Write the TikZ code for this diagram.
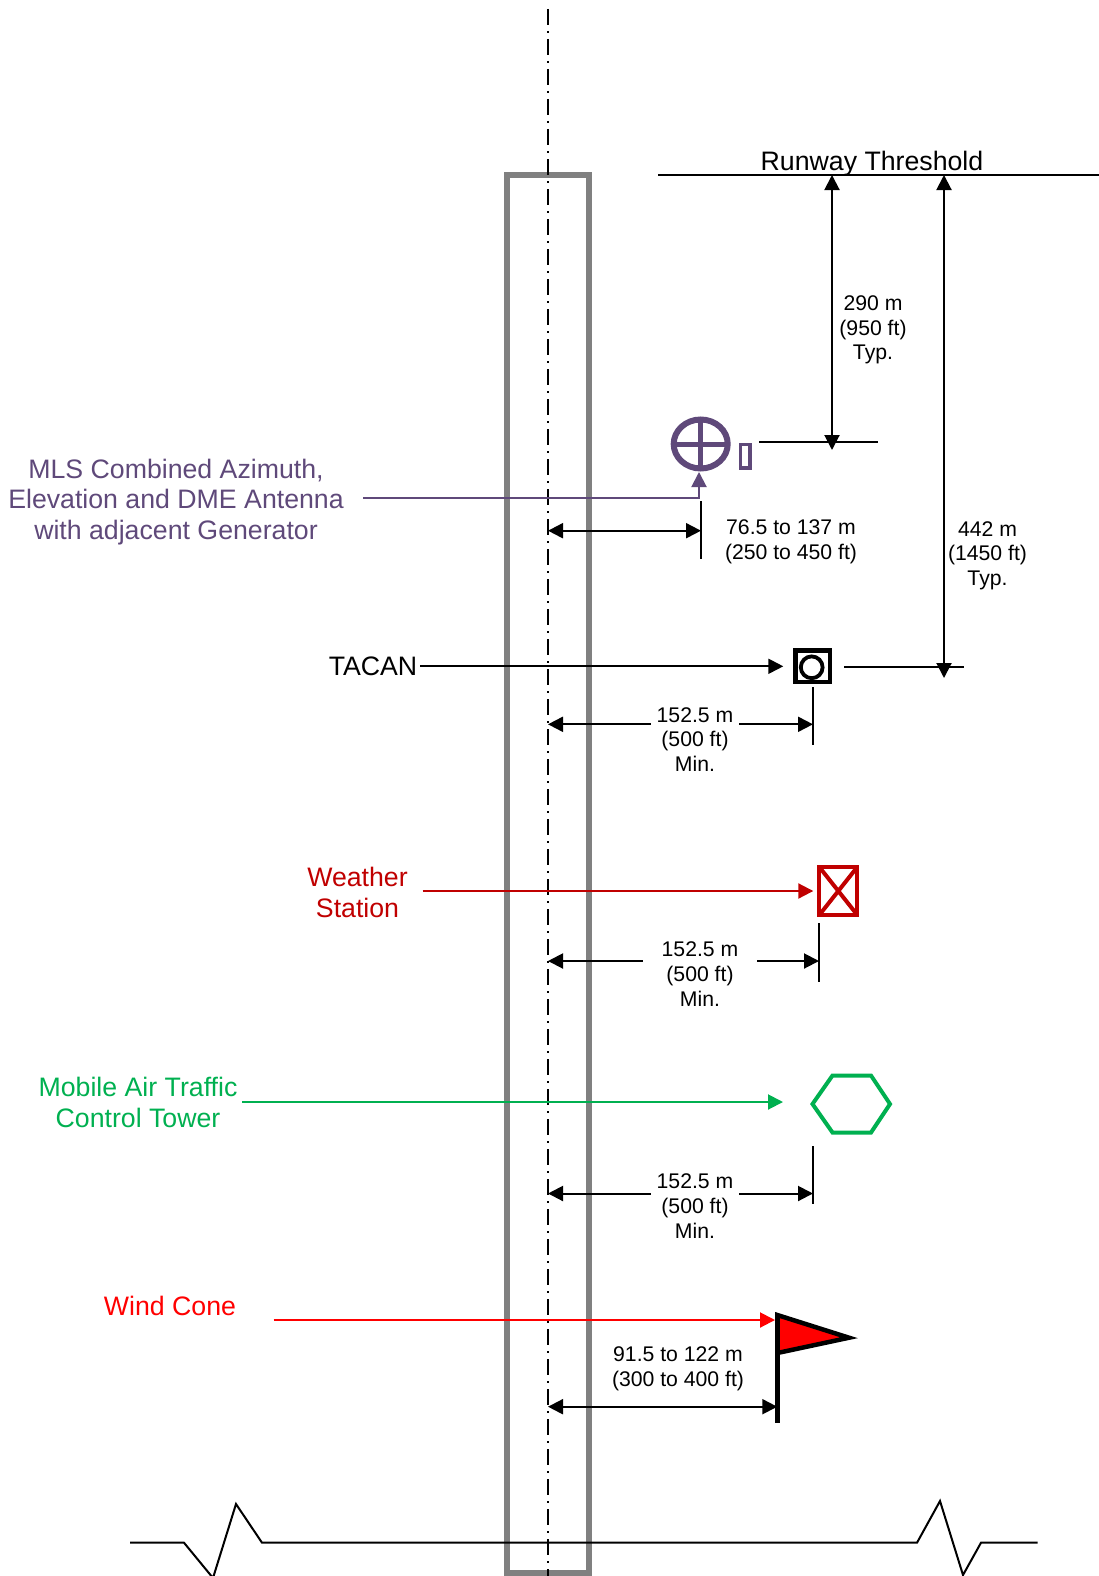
\documentclass[tikz,border=0pt]{standalone}
\usepackage{fontspec}
\setmainfont{Liberation Sans}
\usetikzlibrary{arrows.meta,shapes.geometric}

\definecolor{mlspurple}{HTML}{5F497A}
\definecolor{wxred}{HTML}{C00000}
\definecolor{towergreen}{HTML}{00B050}

\tikzset{
	biglabel/.style={inner sep=0pt, align=center, font=\fontsize{26.7}{30.2}\selectfont},
	dimlabel/.style={inner sep=0pt, align=center, font=\fontsize{21.2}{24.6}\selectfont},
	dimgap/.style={dimlabel, fill=white, inner xsep=#1},
	thin line/.style={line width=2pt},
	symbol/.style={draw, line width=4pt, inner sep=0pt, minimum width=#1}
}

\begin{document}
\begin{tikzpicture}[x=1pt, y=-1pt, >={Triangle[length=15pt,width=15pt]}, thin line]
	\useasboundingbox (0,0) rectangle (1099,1576);

	% Runway and centre line
	\draw [line width=6pt, color=gray] (506.5,1573) -- (506.5,175) -- (589,175) -- (589,1573) -- cycle;
	\coordinate (cltop) at (548,9);
	\coordinate (clbot) at (548,1576);
	\draw [dash pattern=on 16pt off 6pt on 2pt off 6pt] (cltop) -- (clbot);

	% Break line
	\draw (130,1542.7) -- (184,1542.7) -- (213,1578) -- (236,1504) -- (262,1542.7) -- (917,1542.7) -- (940,1501) -- (963,1575) -- (981,1542.7) -- (1037.5,1542.7);

	% Nodes
	\node [biglabel] 					(thrlabel)		at (872,164)		{Runway Threshold};
	\node [biglabel, color=mlspurple]	(mlslabel)		at (176,502)		{MLS Combined Azimuth,\\Elevation and DME Antenna\\with adjacent Generator};
	\node [biglabel]					(tacanlabel)	at (373,666.3)		{TACAN};
	\node [biglabel, color=wxred]		(wxlabel)		at (357.5,892.5)	{Weather\\Station};
	\node [biglabel, color=towergreen]	(twrlabel)		at (138,1102.5)		{Mobile Air Traffic\\Control Tower};
	\node [biglabel, color=red]			(windlabel)		at (170,1306)		{Wind Cone};

	\node [ellipse, draw=mlspurple, line width=6pt, inner sep=0pt, minimum width=54pt, minimum height=49pt,
		path picture={\draw [color=mlspurple, line width=5pt] (path picture bounding box.north) -- (path picture bounding box.south) (path picture bounding box.west) -- (path picture bounding box.east);}]
		(mls) at (700.7,444) {};
	\node [draw=mlspurple, line width=3.5pt, inner sep=0pt, minimum width=9.5pt, minimum height=23.5pt] (gen) at (745.3,456.3) {};
	\node [symbol=34.5pt, minimum height=31.5pt, line width=4.5pt]		(tacan)	at (812.8,666.3) {};
	\node [circle, draw, line width=3.8pt, inner sep=0pt, minimum size=21.8pt]	(tacanring) at (811.7,667.3) {};
	\node [symbol=38pt, minimum height=48pt, draw=wxred,
		path picture={\draw [color=wxred, line width=4pt] (path picture bounding box.north west) -- (path picture bounding box.south east) (path picture bounding box.north east) -- (path picture bounding box.south west);}]
		(wx) at (838.3,891) {};

	% Shapes drawn by hand
	\draw [line width=4pt, color=towergreen, line join=miter] (812.5,1104) -- (832.5,1075.5) -- (871,1075.5) -- (890,1104) -- (871,1132.5) -- (832.5,1132.5) -- cycle;
	\coordinate (twr) at (783,1102);
	\coordinate (poletop) at (777.3,1315);
	\coordinate (polebot) at (777.3,1423);
	\draw [line width=4.5pt, fill=red, line join=miter] (poletop) -- (849,1337.7) -- (777.3,1353) -- cycle;
	\draw [line width=4.5pt] (poletop) -- (polebot);

	% Free ends
	\coordinate (thrl) at (658,175);
	\coordinate (thrr) at (1099,175);
	\coordinate (mlsl) at (759,442);
	\coordinate (mlsr) at (878,442);
	\coordinate (tacl) at (844,667);
	\coordinate (tacr) at (964,667);
	\coordinate (dima) at (832,175);
	\coordinate (dimb) at (832,450);
	\coordinate (dimc) at (944,175);
	\coordinate (dimd) at (944,678);
	\coordinate (mlsstart) at (363,498);
	\coordinate (mlscorner) at (699,498);
	\coordinate (mlstip) at (699,472);
	\coordinate (windstart) at (273.5,1320);
	\coordinate (windtip) at (775,1320);

	% Ticks
	\draw (701,501) coordinate (t1a) -- (701,559) coordinate (t1b);
	\draw (813,687) coordinate (t2a) -- (813,745) coordinate (t2b);
	\draw (819,923) coordinate (t3a) -- (819,981.5) coordinate (t3b);
	\draw (813,1146) coordinate (t4a) -- (813,1204) coordinate (t4b);

	% Paths
	\draw (thrl) -- (thrr);
	\draw (mlsl) -- (mlsr);
	\draw (tacl) -- (tacr);
	\draw [<->] (dima) -- (dimb);
	\draw [<->] (dimc) -- (dimd);

	\draw [color=mlspurple, ->] (mlsstart) -- (mlscorner) -- (mlstip);
	\draw [->, shorten <=2pt, shorten >=10pt] (tacanlabel) -- (tacan);
	\draw [color=wxred, ->, shorten <=14pt, shorten >=4pt] (wxlabel.east |- wx) -- (wx);
	\draw [color=towergreen, ->, shorten <=4pt] (twrlabel.east |- twr) -- (twr);
	\draw [color=red, ->] (windstart) -- (windtip);

	\draw [<->] (cltop |- 0,530.7) -- (t1a |- 0,530.7);
	\draw [<->] (cltop |- 0,724.3) -- (t2a |- 0,724.3);
	\draw [<->] (cltop |- 0,961) -- (t3a |- 0,961);
	\draw [<->] (cltop |- 0,1193.5) -- (t4a |- 0,1193.5);
	\draw [<->] (cltop |- 0,1406.7) -- (poletop |- 0,1406.7);

	% Dimension labels
	\node [dimlabel]		(d290)	at (873,330)		{290 m\\(950 ft)\\Typ.};
	\node [dimlabel]		(d442)	at (987.5,555.5)	{442 m\\(1450 ft)\\Typ.};
	\node [dimlabel]		(d76)	at (791,542)		{76.5 to 137 m\\(250 to 450 ft)};
	\node [dimgap=6pt]		(d152a)	at (695,739.5)		{152.5 m\\(500 ft)\\Min.};
	\node [dimgap=19pt]		(d152b)	at (700,974)		{152.5 m\\(500 ft)\\Min.};
	\node [dimgap=6pt]		(d152c)	at (695,1206)		{152.5 m\\(500 ft)\\Min.};
	\node [dimlabel]		(d91)	at (678,1368.5)		{91.5 to 122 m\\(300 to 400 ft)};
\end{tikzpicture}
\end{document}
